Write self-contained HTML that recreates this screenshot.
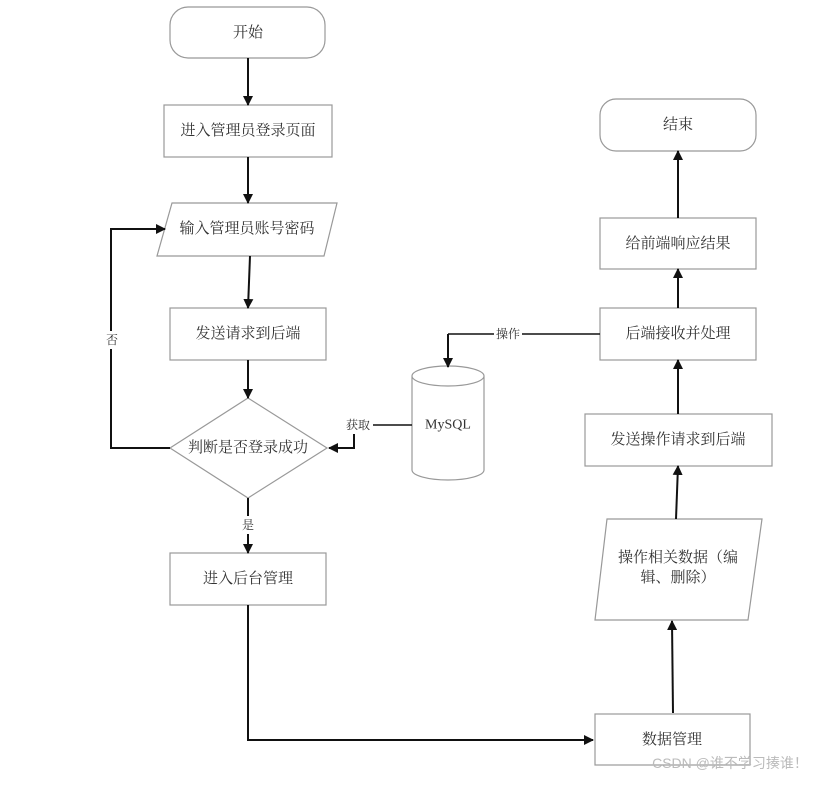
<!DOCTYPE html>
<html><head><meta charset="utf-8"><style>
html,body{margin:0;padding:0;background:#fff;}
text{font-family:"Liberation Serif","Noto Serif CJK SC","Noto Sans CJK SC",serif;fill:#333;}
</style></head><body>
<svg width="832" height="783" viewBox="0 0 832 783" xmlns="http://www.w3.org/2000/svg">
<defs><marker id="a" markerWidth="10" markerHeight="10" refX="9" refY="5" orient="auto" markerUnits="userSpaceOnUse"><path d="M0,0 L10,5 L0,10 z" fill="#111"/></marker></defs>
<g fill="#fff" stroke="#999" stroke-width="1.2">
<rect x="170" y="7" width="155" height="51" rx="18"/>
<rect x="164" y="105" width="168" height="52"/>
<polygon points="172,203 337,203 324,256 157,256"/>
<rect x="170" y="308" width="156" height="52"/>
<polygon points="248,398 327,448 248,498 170,448"/>
<rect x="170" y="553" width="156" height="52"/>
<path d="M412,376 L412,470 A36,10 0 0 0 484,470 L484,376 A36,10 0 0 0 412,376 A36,10 0 0 0 484,376"/>
<rect x="600" y="99" width="156" height="52" rx="16"/>
<rect x="600" y="218" width="156" height="51"/>
<rect x="600" y="308" width="156" height="52"/>
<rect x="585" y="414" width="187" height="52"/>
<polygon points="607,519 762,519 748,620 595,620"/>
<rect x="595" y="714" width="155" height="51"/>
</g>
<g stroke="#111" stroke-width="2" fill="none" marker-end="url(#a)">
<line x1="248" y1="58" x2="248" y2="105"/>
<line x1="248" y1="157" x2="248" y2="203"/>
<line x1="250" y1="256" x2="248" y2="308"/>
<line x1="248" y1="360" x2="248" y2="398"/>
<line x1="248" y1="498" x2="248" y2="553"/>
<polyline points="170,448 111,448 111,229 165,229"/>
<polyline points="372,425 354,425 354,448 329,448"/>
<polyline points="248,605 248,740 593,740"/>
<line x1="673" y1="713" x2="672" y2="621"/>
<line x1="676" y1="519" x2="678" y2="466"/>
<line x1="678" y1="414" x2="678" y2="360"/>
<line x1="678" y1="308" x2="678" y2="269"/>
<line x1="678" y1="218" x2="678" y2="151"/>
<polyline points="448,334 448,367"/>
</g>
<g stroke="#111" stroke-width="1.5"><line x1="412" y1="425" x2="372" y2="425"/><line x1="600" y1="334" x2="522" y2="334"/><line x1="494" y1="334" x2="448" y2="334"/></g>
<g fill="#fff">
<rect x="104" y="331" width="16" height="18"/>
<rect x="240" y="516" width="16" height="18"/>
<rect x="343" y="416" width="30" height="18"/>
<rect x="494" y="325" width="28" height="18"/>
</g>
<g font-size="15" text-anchor="middle" dominant-baseline="central">
<text x="248" y="33">开始</text>
<text x="248" y="131">进入管理员登录页面</text>
<text x="247" y="229">输入管理员账号密码</text>
<text x="248" y="334">发送请求到后端</text>
<text x="248" y="448">判断是否登录成功</text>
<text x="248" y="579">进入后台管理</text>
<text x="448" y="425" font-family="Liberation Mono,monospace" font-size="14">MySQL</text>
<text x="678" y="125">结束</text>
<text x="678" y="244">给前端响应结果</text>
<text x="678" y="334">后端接收并处理</text>
<text x="678" y="440">发送操作请求到后端</text>
<text x="678" y="558">操作相关数据（编</text>
<text x="678" y="578">辑、删除）</text>
<text x="672" y="740">数据管理</text>
</g>
<g font-size="12" text-anchor="middle" dominant-baseline="central">
<text x="112" y="340">否</text>
<text x="358" y="425">获取</text>
<text x="508" y="334">操作</text>
<text x="248" y="525">是</text>
</g>
<text x="730" y="768" font-size="14" text-anchor="middle" style="fill:#bbb;font-family:'Liberation Sans','Noto Sans CJK SC',sans-serif">CSDN @谁不学习揍谁！</text>
</svg>
</body></html>
